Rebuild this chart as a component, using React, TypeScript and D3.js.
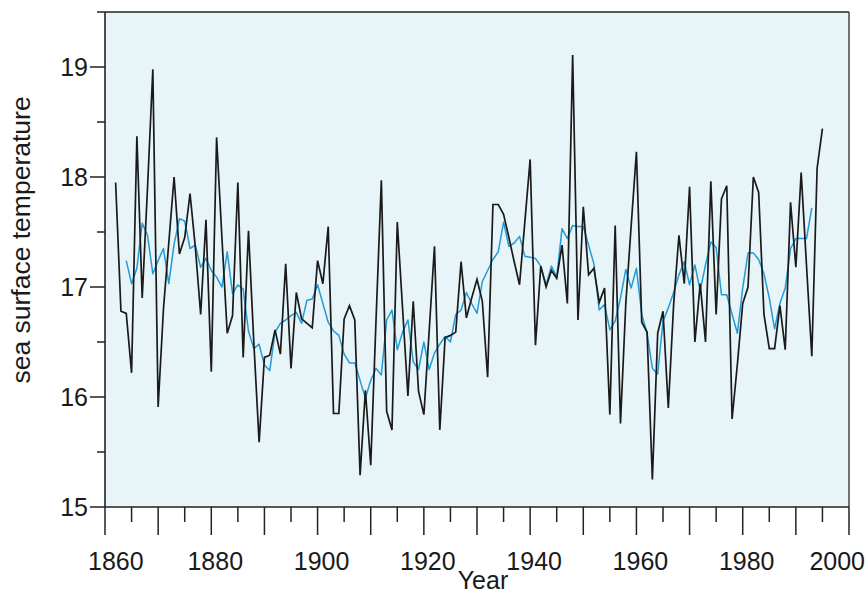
import React from "react";
import * as d3 from "d3";

// Annual sea surface temperature (black), first year 1862
const sstStartYear = 1862;
const sstValues = [
  17.95, 16.78, 16.76, 16.22, 18.37, 16.9, 17.9, 18.98, 15.91, 16.8,
  17.4, 18.0, 17.3, 17.45, 17.85, 17.36, 16.75, 17.61, 16.23, 18.36,
  17.45, 16.58, 16.74, 17.95, 16.36, 17.51, 16.5, 15.59, 16.36, 16.38,
  16.61, 16.39, 17.21, 16.26, 16.95, 16.71, 16.67, 16.63, 17.24, 17.03,
  17.55, 15.85, 15.85, 16.71, 16.83,
  16.7, 15.29, 16.06, 15.38, 16.7, 17.97, 15.87, 15.7, 17.59, 16.8,
  16.01, 16.87, 16.05, 15.84, 16.6, 17.37, 15.7, 16.54, 16.56, 16.59,
  17.23, 16.72, 16.9, 17.07, 16.87, 16.18, 17.75, 17.75, 17.66, 17.45,
  17.23, 17.02, 17.59, 18.16, 16.47, 17.19, 17.0, 17.15, 17.08, 17.38,
  16.85, 19.11, 16.7, 17.73, 17.11, 17.17, 16.86, 16.99, 15.84, 17.56,
  15.76, 16.85, 17.55, 18.23,
  16.68, 16.59, 15.25, 16.58, 16.78, 15.9, 16.84, 17.47, 17.03, 17.91,
  16.5, 17.03, 16.5, 17.96, 16.75, 17.8, 17.92, 15.8, 16.3, 16.85,
  17.0, 18.0, 17.86, 16.75, 16.44, 16.44, 16.83, 16.43, 17.77, 17.18,
  18.04, 17.2, 16.37, 18.08, 18.44,
];

// Smoothed series (blue), first year 1864
const smoothStartYear = 1864;
const smoothValues = [
  17.24, 17.03, 17.17, 17.58, 17.47, 17.12, 17.24, 17.35, 17.03, 17.39,
  17.62, 17.6, 17.35, 17.38, 17.18, 17.26, 17.15, 17.09, 17.0, 17.32,
  16.94, 17.02, 16.98, 16.6, 16.44, 16.48, 16.29, 16.24, 16.59, 16.67,
  16.7, 16.74, 16.77, 16.67, 16.88, 16.89, 17.02, 16.85, 16.68, 16.6,
  16.56, 16.39, 16.31, 16.31, 16.15, 15.99, 16.15, 16.26, 16.2, 16.7,
  16.79, 16.43, 16.59, 16.7, 16.32, 16.25, 16.5, 16.25, 16.4, 16.48,
  16.55, 16.5, 16.75, 16.79, 16.95, 16.85, 16.76, 17.05, 17.15, 17.25,
  17.32, 17.59, 17.37, 17.4, 17.46, 17.28, 17.27, 17.26, 17.19, 17.02,
  17.19, 17.09, 17.53, 17.44, 17.56, 17.55, 17.55, 17.38, 17.21, 16.79,
  16.84, 16.61, 16.69, 16.9, 17.16, 16.99, 17.17, 16.75, 16.58, 16.26,
  16.21, 16.69, 16.81, 16.95, 17.11, 17.23, 17.02, 17.2, 16.97, 17.2,
  17.41, 17.36, 16.93, 16.93, 16.75, 16.58, 16.99, 17.31, 17.31, 17.25,
  17.12, 16.9, 16.62, 16.85, 16.99, 17.35, 17.44, 17.44, 17.44, 17.72,
];

const xDomain = [1860, 2000];
const yDomain = [15, 19.5];
const xMajorTicks = [1860, 1870, 1880, 1890, 1900, 1910, 1920, 1930, 1940, 1950, 1960, 1970, 1980, 1990, 2000];
const xMinorTicks = [1865, 1875, 1885, 1895, 1905, 1915, 1925, 1935, 1945, 1955, 1965, 1975, 1985, 1995];
const xTickLabels = [1860, 1880, 1900, 1920, 1940, 1960, 1980, 2000];
const yMajorTicks = [15, 16, 17, 18, 19];
const yMinorTicks = [15.5, 16.5, 17.5, 18.5, 19.5];
const yTickLabels = ["15", "16", "17", "18", "19"];
const xTitle = "Year";
const yTitle = "sea surface temperature";

const W = 866;
const H = 595;
const L = 105, R = 849, T = 12, B = 507;
const FONT = "'Liberation Sans', Arial, Helvetica, sans-serif";

export default function App() {
  const x = d3.scaleLinear().domain(xDomain).range([L, R]);
  const y = d3.scaleLinear().domain(yDomain).range([B, T]);

  const sst = sstValues.map((v, i) => ({ year: sstStartYear + i, v }));
  const smooth = smoothValues.map((v, i) => ({ year: smoothStartYear + i, v }));

  const line = d3
    .line<{ year: number; v: number }>()
    .x((d) => x(d.year))
    .y((d) => y(d.v));

  return (
    <svg
      width={W}
      height={H}
      style={{ position: "absolute", left: 0, top: 0, background: "#fff" }}
      fontFamily={FONT}
    >
      <rect x={L} y={T} width={R - L} height={B - T} fill="#e7f5f8" />
      <path d={line(smooth) || ""} fill="none" stroke="#229bd6" strokeWidth={1.5} strokeLinejoin="round" />
      <path d={line(sst) || ""} fill="none" stroke="#1a1a1a" strokeWidth={1.7} strokeLinejoin="miter" />

      {/* frame */}
      <line x1={L} x2={R} y1={T} y2={T} stroke="#222" strokeWidth={1.5} />
      <line x1={R} x2={R} y1={T} y2={B} stroke="#444" strokeWidth={1.5} />
      <line x1={L} x2={L} y1={T} y2={B} stroke="#222" strokeWidth={1.6} />
      <line x1={L} x2={R} y1={B} y2={B} stroke="#222" strokeWidth={1.6} />

      {/* y ticks */}
      {yMajorTicks.map((t) => (
        <line key={"ym" + t} x1={L - 15} x2={L} y1={y(t)} y2={y(t)} stroke="#222" strokeWidth={1.5} />
      ))}
      {yMinorTicks.map((t) => (
        <line key={"yn" + t} x1={L - 8} x2={L} y1={y(t)} y2={y(t)} stroke="#222" strokeWidth={1.5} />
      ))}
      {yMajorTicks.map((t, i) => (
        <text key={"yl" + t} x={L - 17} y={y(t)} dy="0.36em" textAnchor="end" fontSize={25} fill="#1a1a1a">
          {yTickLabels[i]}
        </text>
      ))}

      {/* x ticks */}
      {xMajorTicks.map((t) => (
        <line key={"xm" + t} x1={x(t)} x2={x(t)} y1={B} y2={B + 28} stroke="#222" strokeWidth={1.5} />
      ))}
      {xMinorTicks.map((t) => (
        <line key={"xn" + t} x1={x(t)} x2={x(t)} y1={B} y2={B + 15} stroke="#222" strokeWidth={1.5} />
      ))}
      {xTickLabels.map((t, i) => {
        const first = i === 0;
        const last = i === xTickLabels.length - 1;
        return (
          <text
            key={"xl" + t}
            x={first ? x(t) - 17 : last ? W - 1 : x(t) + 4}
            y={B + 63}
            textAnchor={first ? "start" : last ? "end" : "middle"}
            fontSize={25}
            fill="#1a1a1a"
          >
            {t}
          </text>
        );
      })}

      <text x={483} y={H - 6} textAnchor="middle" fontSize={25} fill="#1a1a1a">
        {xTitle}
      </text>
      <text
        transform={`translate(30, 240) rotate(-90)`}
        textAnchor="middle"
        fontSize={26.5}
        fill="#1a1a1a"
      >
        {yTitle}
      </text>
    </svg>
  );
}
